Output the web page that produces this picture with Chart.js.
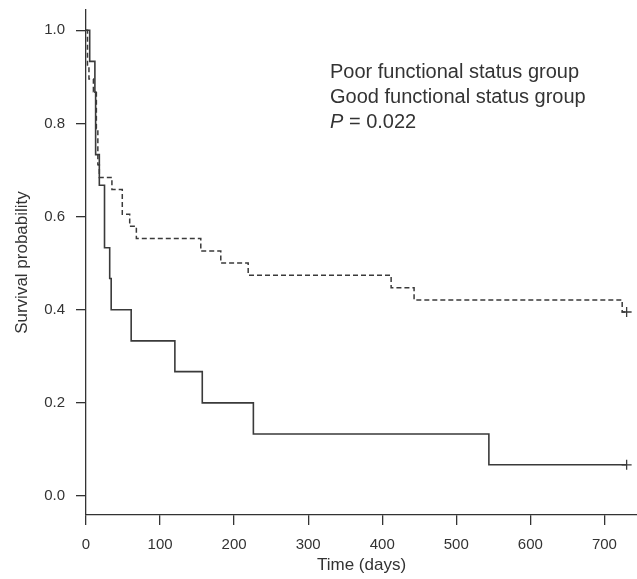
<!DOCTYPE html>
<html lang="en">
<head>
  <meta charset="UTF-8" />
  <title>Survival by functional status</title>
  <style>
    body {
      margin: 0;
      background: #ffffff;
    }
    canvas {
      display: block;
    }
  </style>
</head>
<body>
  <canvas id="kmChart" width="637" height="579"></canvas>

  <script src="https://cdn.jsdelivr.net/npm/chart.js"></script>
  <script>
    // Kaplan-Meier steps (time in days, survival after the event)
    const poorTime = [0, 5, 12, 13, 18, 25, 32, 34, 61, 120, 157, 226, 544, 730];
    const poorSurv = [1.0, 0.933, 0.867, 0.733, 0.667, 0.533, 0.467, 0.4, 0.333, 0.267, 0.2, 0.133, 0.067, 0.067];

    const goodTime = [0, 2, 4, 10, 14, 16, 18, 35, 49, 59, 68, 155, 182, 219, 412, 443, 724, 730];
    const goodSurv = [1.0, 0.921, 0.895, 0.868, 0.789, 0.711, 0.684, 0.658, 0.605, 0.579, 0.553, 0.526, 0.5, 0.474, 0.447, 0.421, 0.395, 0.395];

    // censored observations (the "+" marks)
    const censorTime = [730, 730];
    const censorSurv = [0.067, 0.395];

    const xTicks = [0, 100, 200, 300, 400, 500, 600, 700];
    const yTicks = [0.0, 0.2, 0.4, 0.6, 0.8, 1.0];

    const legendLines = ["Poor functional status group", "Good functional status group"];
    const pValue = "0.022";

    const ink = "#333333";
    const fontFamily = '"Liberation Sans", Arial, Helvetica, sans-serif';
    Chart.defaults.font.family = fontFamily;
    Chart.defaults.color = ink;

    const toPoints = (xs, ys) => xs.map((x, i) => ({ x: x, y: ys[i] }));

    // text block in the upper right
    const annotationText = {
      id: "annotationText",
      afterDraw(chart) {
        const ctx = chart.ctx;
        ctx.save();
        ctx.fillStyle = ink;
        ctx.textBaseline = "middle";
        ctx.textAlign = "left";
        ctx.font = "20px " + fontFamily;
        const x0 = 330;
        ctx.fillText(legendLines[0], x0, 72);
        ctx.fillText(legendLines[1], x0, 97);
        ctx.font = "italic 20px " + fontFamily;
        ctx.fillText("P", x0, 122);
        const w = ctx.measureText("P").width;
        ctx.font = "20px " + fontFamily;
        ctx.fillText(" = " + pValue, x0 + w, 122);
        ctx.restore();
      }
    };

    const axisGrid = {
      drawOnChartArea: false,
      drawTicks: true,
      tickLength: 10,
      color: ink,
      lineWidth: 1.3
    };

    const kmChart = new Chart(document.getElementById("kmChart").getContext("2d"), {
      type: "line",
      data: {
        datasets: [
          {
            label: "Poor functional status group",
            data: toPoints(poorTime, poorSurv),
            stepped: "before",
            borderColor: "#3a3a3a",
            borderWidth: 1.6,
            pointRadius: 0,
            fill: false
          },
          {
            label: "Good functional status group",
            data: toPoints(goodTime, goodSurv),
            stepped: "before",
            borderColor: "#3a3a3a",
            borderWidth: 1.5,
            borderDash: [5, 3],
            pointRadius: 0,
            fill: false
          },
          {
            type: "scatter",
            label: "Censored",
            data: toPoints(censorTime, censorSurv),
            pointStyle: "cross",
            pointRadius: 5,
            borderColor: "#3a3a3a",
            borderWidth: 1.3,
            showLine: false
          }
        ]
      },
      options: {
        responsive: false,
        animation: false,
        devicePixelRatio: 1,
        layout: { autoPadding: false, padding: { top: 10, right: 0, bottom: 0, left: 0 } },
        plugins: {
          legend: { display: false },
          tooltip: { enabled: false }
        },
        scales: {
          x: {
            type: "linear",
            min: 0,
            max: 744,
            grid: axisGrid,
            border: { display: true, color: ink, width: 1.3 },
            afterBuildTicks: (scale) => {
              scale.ticks = xTicks.map(v => ({ value: v }));
            },
            afterFit: (scale) => {
              scale.height = 64;
              scale.paddingLeft = 0;
              scale.paddingRight = 0;
            },
            ticks: {
              padding: 11,
              color: ink,
              font: { size: 15 },
              maxRotation: 0,
              callback: (v) => String(v)
            },
            title: {
              display: true,
              text: "Time (days)",
              color: ink,
              font: { size: 17 },
              padding: { top: 0, bottom: 3 }
            }
          },
          y: {
            type: "linear",
            min: -0.0408,
            max: 1.0434,
            grid: axisGrid,
            border: { display: true, color: ink, width: 1.3 },
            afterBuildTicks: (scale) => {
              scale.ticks = yTicks.map(v => ({ value: v }));
            },
            afterFit: (scale) => {
              scale.width = 86;
              scale.paddingTop = 0;
              scale.paddingBottom = 0;
            },
            ticks: {
              padding: 11,
              color: ink,
              font: { size: 15 },
              callback: (v) => v.toFixed(1)
            },
            title: {
              display: true,
              text: "Survival probability",
              color: ink,
              font: { size: 17 },
              padding: { top: 12, bottom: 0 }
            }
          }
        }
      },
      plugins: [annotationText]
    });
  </script>
</body>
</html>
